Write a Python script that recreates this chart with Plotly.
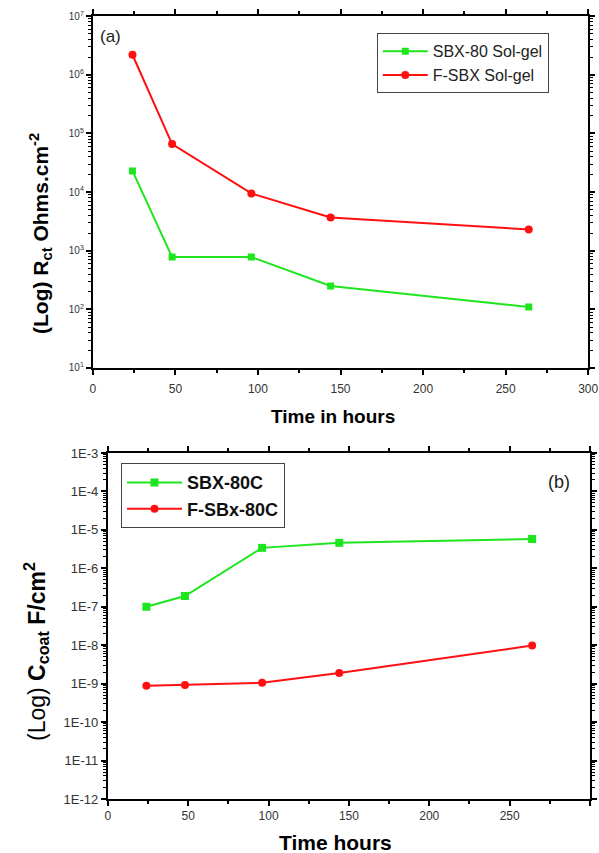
import plotly.graph_objects as go

hours = [24, 48, 96, 144, 264]

# Panel (a): charge-transfer resistance
rct_sbx80 = [2.3e4, 780, 780, 250, 110]
rct_fsbx = [2.2e6, 6.6e4, 9.5e3, 3.7e3, 2.3e3]

# Panel (b): coating capacitance
cc_sbx80 = [1.0e-7, 1.9e-7, 3.4e-6, 4.6e-6, 5.8e-6]
cc_fsbx = [8.8e-10, 9.2e-10, 1.05e-9, 1.9e-9, 9.8e-9]

a_tickvals = [10, 100, 1e3, 1e4, 1e5, 1e6, 1e7]
a_ticktext = ["10<sup>1</sup>", "10<sup>2</sup>", "10<sup>3</sup>", "10<sup>4</sup>",
              "10<sup>5</sup>", "10<sup>6</sup>", "10<sup>7</sup>"]
b_tickvals = [1e-12, 1e-11, 1e-10, 1e-9, 1e-8, 1e-7, 1e-6, 1e-5, 1e-4, 1e-3]
b_ticktext = ["1E-12", "1E-11", "1E-10", "1E-9", "1E-8", "1E-7", "1E-6", "1E-5", "1E-4", "1E-3"]
x_tickvals = [0, 50, 100, 150, 200, 250, 300]

a_minor = [m * d for d in a_tickvals[:-1] for m in range(2, 10)]
b_minor = [m * d for d in b_tickvals[:-1] for m in range(2, 10)]

GREEN = "#1ee61e"
RED = "#ff1010"

fig = go.Figure()
fig.add_trace(go.Scatter(x=hours, y=rct_sbx80, name="SBX-80 Sol-gel", mode="lines+markers",
                         line=dict(color=GREEN, width=2), marker=dict(symbol="square", size=7, color=GREEN),
                         xaxis="x", yaxis="y", legend="legend"))
fig.add_trace(go.Scatter(x=hours, y=rct_fsbx, name="F-SBX Sol-gel", mode="lines+markers",
                         line=dict(color=RED, width=2), marker=dict(symbol="circle", size=8, color=RED),
                         xaxis="x", yaxis="y", legend="legend"))
fig.add_trace(go.Scatter(x=hours, y=cc_sbx80, name="SBX-80C", mode="lines+markers",
                         line=dict(color=GREEN, width=2), marker=dict(symbol="square", size=8, color=GREEN),
                         xaxis="x2", yaxis="y2", legend="legend2"))
fig.add_trace(go.Scatter(x=hours, y=cc_fsbx, name="F-SBx-80C", mode="lines+markers",
                         line=dict(color=RED, width=2), marker=dict(symbol="circle", size=8, color=RED),
                         xaxis="x2", yaxis="y2", legend="legend2"))

axcommon = dict(showline=True, linecolor="black", linewidth=2, mirror="ticks",
                ticks="outside", tickcolor="black", tickwidth=2, ticklen=5,
                showgrid=False, zeroline=False, automargin=False)

fig.update_layout(
    width=599, height=853,
    margin=dict(l=0, r=0, t=0, b=0, autoexpand=False),
    paper_bgcolor="white", plot_bgcolor="white",
    font=dict(family="Liberation Sans, Arial, sans-serif", color="black"),
    showlegend=True,
    xaxis=dict(domain=[0.155, 0.982], anchor="y", range=[0, 300], tickvals=x_tickvals,
               tickfont=dict(size=12, color="#333"), ticklabelstandoff=4,
               minor=dict(dtick=25, tick0=0, ticks="outside", ticklen=3, tickcolor="black", tickwidth=2),
               **axcommon),
    yaxis=dict(domain=[0.5686, 0.981], anchor="x", type="log", range=[1, 7],
               tickvals=a_tickvals, ticktext=a_ticktext, tickfont=dict(size=10, color="#333"),
               minor=dict(tickmode="array", tickvals=a_minor, ticks="outside", ticklen=3,
                          tickcolor="black", tickwidth=1),
               **axcommon),
    xaxis2=dict(domain=[0.180, 0.985], anchor="y2", range=[0, 300], tickvals=x_tickvals,
                tickfont=dict(size=12, color="#333"),
                minor=dict(dtick=25, tick0=0, ticks="outside", ticklen=3, tickcolor="black", tickwidth=2),
                **axcommon),
    yaxis2=dict(domain=[0.0633, 0.469], anchor="x2", type="log", range=[-12, -3],
                tickvals=b_tickvals, ticktext=b_ticktext, tickfont=dict(size=13, color="#333"),
                minor=dict(tickmode="array", tickvals=b_minor, ticks="outside", ticklen=3,
                           tickcolor="black", tickwidth=1),
                **axcommon),
    legend=dict(x=0.629, y=0.961, xanchor="left", yanchor="top", bgcolor="white",
                bordercolor="#444", borderwidth=1, font=dict(size=16, color="#222"),
                tracegroupgap=0, itemwidth=45),
    legend2=dict(x=0.202, y=0.457, xanchor="left", yanchor="top", bgcolor="white",
                 bordercolor="#444", borderwidth=1, font=dict(size=18, color="#111", weight="bold"),
                 tracegroupgap=0, itemwidth=55),
    annotations=[
        dict(text="(a)", x=0.164, y=0.957, xref="paper", yref="paper", xanchor="left", yanchor="middle",
             showarrow=False, font=dict(size=17, color="#222")),
        dict(text="(b)", x=0.955, y=0.435, xref="paper", yref="paper", xanchor="right", yanchor="middle",
             showarrow=False, font=dict(size=18, color="#222")),
        # axis titles
        dict(text="<b>Time in hours</b>", x=333 / 599, y=1 - 416 / 853, xref="paper", yref="paper",
             xanchor="center", yanchor="middle", showarrow=False, font=dict(size=19)),
        dict(text="<b>Time hours</b>", x=335 / 599, y=1 - 842 / 853, xref="paper", yref="paper",
             xanchor="center", yanchor="middle", showarrow=False, font=dict(size=21)),
        dict(text="<b>(Log) R<sub>ct</sub> Ohms.cm<sup>-2</sup></b>", x=40 / 599, y=1 - 234 / 853,
             xref="paper", yref="paper", xanchor="center", yanchor="middle", textangle=-90,
             showarrow=False, font=dict(size=21)),
        dict(text="(Log) <b>C<sub>coat</sub> F/cm<sup>2</sup></b>", x=36 / 599, y=1 - 652 / 853,
             xref="paper", yref="paper", xanchor="center", yanchor="middle", textangle=-90,
             showarrow=False, font=dict(size=23)),
    ],
)

fig.write_html("out.html", post_script="document.body.style.margin='0px';",
               config={"displayModeBar": False})
